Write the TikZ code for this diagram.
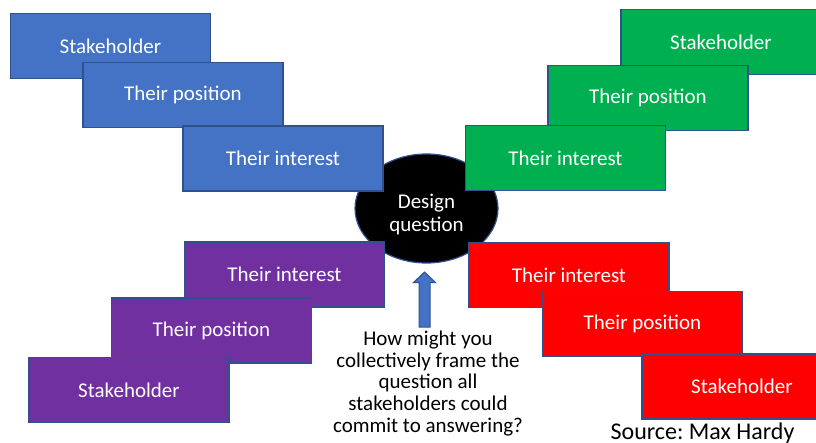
\documentclass[tikz,border=0pt]{standalone}
\usepackage{fontspec}
\setmainfont{Carlito}
\frenchspacing
\usetikzlibrary{shapes.geometric}
\definecolor{cblue}{HTML}{4472C4}
\definecolor{cgreen}{HTML}{00B050}
\definecolor{cpurple}{HTML}{7030A0}
\definecolor{cred}{HTML}{FF0000}
\definecolor{bordc}{HTML}{2F528F}
\begin{document}
\begin{tikzpicture}[x=1pt,y=-1pt,
  box/.style={draw=bordc, line width=1.2pt, minimum width=200pt, minimum height=65pt,
    text=white, font=\fontsize{21}{22}\selectfont, inner sep=0pt},
  bodytext/.style={font=\fontsize{21}{21.7}\selectfont, align=center, inner sep=0pt}]
\useasboundingbox (0,0) rectangle (816,442);
\clip (0,0) rectangle (816,442);
% centre ellipse
\node[ellipse, draw=bordc, line width=1.2pt, fill=black, minimum width=143pt, minimum height=109pt] (dq) at (426.5,208.5) {};
\node[bodytext, text=white, font=\fontsize{21}{23}\selectfont] (dqt) at (426.5,214.5) {Design\\question};
% blue
\node[box, fill=cblue] (bs) at (110.5,46) {Stakeholder};
\node[box, fill=cblue] (bp) at (183,95) {Their position};
\node[box, fill=cblue] (bi) at (283,158.5) {Their interest};
% green
\node[box, fill=cgreen] (gs) at (721,42) {Stakeholder};
\node[box, fill=cgreen] (gp) at (648,98) {Their position};
\node[box, fill=cgreen] (gi) at (565.5,158) {Their interest};
% purple
\node[box, fill=cpurple] (pi) at (284.5,274.5) {Their interest};
\node[box, fill=cpurple] (pp) at (211.5,330.5) {Their position};
\node[box, fill=cpurple] (ps) at (129,390) {Stakeholder};
% red
\node[box, fill=cred] (ri) at (569,275) {Their interest};
\node[box, fill=cred] (rp) at (642.5,324) {Their position};
\node[box, fill=cred] (rs) at (742,386.5) {Stakeholder};
% block arrow
\draw[draw=bordc, line width=1pt, fill=cblue, line join=miter]
  (419,327) -- (430,327) -- (430,282.5) -- (435.5,282.5) -- (424.5,272)
  -- (413.5,282.5) -- (419,282.5) -- cycle;
% question
\node[bodytext] (q) at (428,383.5) {How might you\\collectively frame the\\question all\\stakeholders could\\commit to answering?};
\node[font=\fontsize{24}{26}\selectfont, anchor=base, inner sep=0pt] (src) at (702.5,439) {Source: Max Hardy};
\end{tikzpicture}
\end{document}
